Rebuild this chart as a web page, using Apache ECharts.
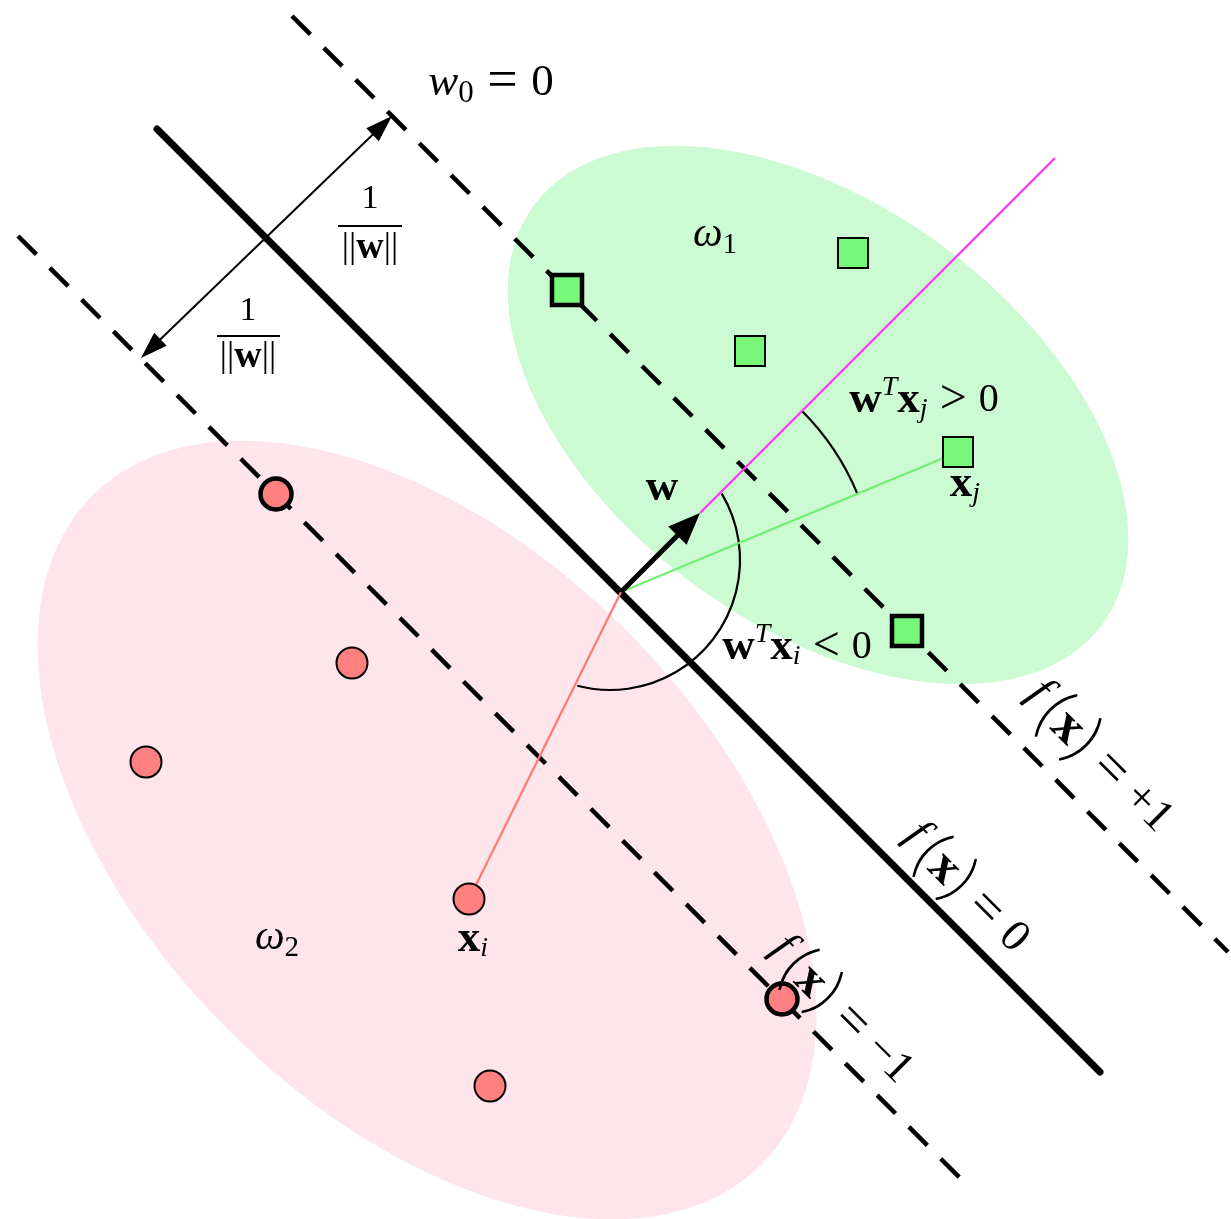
<!DOCTYPE html>
<html>
<head>
<meta charset="utf-8">
<title>Linear SVM: margin and decision boundary</title>
<script src="https://cdn.jsdelivr.net/npm/echarts@6/dist/echarts.min.js"></script>
<style>
  html, body { margin: 0; padding: 0; background: #ffffff; }
  #chart { width: 1231px; height: 1219px; }
</style>
</head>
<body>
<div id="chart"></div>
<script>
// Plane coordinates: x grows to the right, y grows downward.
const PLANE_W = 1231, PLANE_H = 1219;

// Class regions: [centerX, centerY, semiMajor, semiMinor, tiltDeg]
const regionOmega1 = [818, 415, 353, 210, 36.4];
const regionOmega2 = [427, 830, 473, 282, 45];

// Samples of each class (support vectors kept apart)
const omega1Points = [[853, 253], [750, 351], [958, 452]];
const omega1Support = [[567, 290], [907, 631]];
const omega2Points = [[352, 663], [146, 762], [469, 899], [490, 1086]];
const omega2Support = [[276, 494], [782, 999]];

// Decision boundary f(x)=0 and the two margins f(x)=+1 / f(x)=-1
const boundary = [[157, 129], [1100, 1072]];
const marginPlus = [[292, 16], [1228, 952]];
const marginMinus = [[18, 236], [962, 1180]];

// Normal vector w, its extension, and the two projected samples
const wArrow = [621, 592, 700, 513];
const wRay = [[700, 513], [1055, 158]];
const toXj = [[621, 592], [958, 452]];
const toXi = [[621, 592], [469, 899]];

// Double arrow spanning the margin
const marginArrow = [141, 358, 392, 116];

// Angle arcs: [cx, cy, r, startDeg, endDeg]
const arcPositive = [621, 592, 256, -45, -22.6];
const arcNegative = [610, 560, 130, -30.7, 104.6];

// Fraction bars of 1/||w||: [x1, y, x2]
const fractionBars = [[338, 226, 402], [217, 336, 280]];

// ---------------------------------------------------------------
const SERIF = '"Liberation Serif", "DejaVu Serif", serif';
const REGION_COLORS = ['#ccfad2', '#fde5eb'];

function richFor(size) {
  const s = Math.round(size * 0.7);
  const b = Math.round(size * 1.12);
  return {
    it: { fontSize: size, fontStyle: 'italic', fontFamily: SERIF },
    itf: { fontSize: size, fontStyle: 'italic', fontFamily: SERIF, padding: [0, 0, Math.round(size * 0.22), 0] },
    rm: { fontSize: size, fontFamily: SERIF },
    bf: { fontSize: b, fontWeight: 'bold', fontFamily: SERIF },
    rel: { fontSize: Math.round(size * 1.2), fontFamily: SERIF },
    bars: { fontSize: Math.round(size * 1.05), fontFamily: SERIF },
    sub: { fontSize: s, fontStyle: 'italic', fontFamily: SERIF, padding: [Math.round(size * 0.5), 0, 0, 0] },
    subrm: { fontSize: s, fontFamily: SERIF, padding: [Math.round(size * 0.48), 0, 0, 0] },
    sup: { fontSize: s, fontStyle: 'italic', fontFamily: SERIF, padding: [0, 0, Math.round(size * 0.6), 0] },
    big: { fontSize: Math.round(size * 1.45), fontFamily: 'Lato, "DejaVu Sans", sans-serif', fontWeight: 300,
           padding: [0, 0, Math.round(size * 0.05), 0] }
  };
}

const labels = [
  { text: '{it|w}{subrm|0}{rel| = }{rm|0}', at: [491, 83], size: 45 },
  { text: '{it|ω}{subrm|1}', at: [715, 235], size: 42 },
  { text: '{it|ω}{subrm|2}', at: [277, 938], size: 42 },
  { text: '{bf|w}', at: [662, 488], size: 40 },
  { text: '{bf|x}{sub|j}', at: [965, 484], size: 40 },
  { text: '{bf|x}{sub|i}', at: [473, 939], size: 40 },
  { text: '{bf|w}{sup|T}{bf|x}{sub|j}{rel| > }{rm|0}', at: [924, 400], size: 40 },
  { text: '{bf|w}{sup|T}{bf|x}{sub|i}{rel| < }{rm|0}', at: [797, 647], size: 40 },
  { text: '{rm|1}', at: [370, 199], size: 34 },
  { text: '{bars|||}{bf|w}{bars|||}', at: [370, 248], size: 34 },
  { text: '{rm|1}', at: [248, 311], size: 34 },
  { text: '{bars|||}{bf|w}{bars|||}', at: [248, 357], size: 34 },
  { text: '{itf|f\u2009}{big|(}{bf|x}{big|)}{rel| = }{rm|+1}', at: [1098, 758], size: 46, tilt: -45 },
  { text: '{itf|f\u2009}{big|(}{bf|x}{big|)}{rel| = }{rm|0}', at: [965, 889], size: 45, tilt: -45 },
  { text: '{itf|f\u2009}{big|(}{bf|x}{big|)}{rel| = }{rm|−1}', at: [840, 1011], size: 45, tilt: -45 }
];

const arrowStyles = [
  { width: 2, headLen: 27, headWidth: 18, both: true },
  { width: 5, headLen: 32, headWidth: 26, both: false }
];

function ellipseItem(params, api) {
  const cx = api.value(0), cy = api.value(1);
  const a = api.value(2), b = api.value(3);
  const t = api.value(4) * Math.PI / 180;
  const pts = [];
  for (let k = 0; k < 240; k++) {
    const u = (k / 240) * Math.PI * 2;
    const ex = a * Math.cos(u), ey = b * Math.sin(u);
    pts.push(api.coord([cx + ex * Math.cos(t) - ey * Math.sin(t),
                        cy + ex * Math.sin(t) + ey * Math.cos(t)]));
  }
  return { type: 'polygon', shape: { points: pts }, style: { fill: REGION_COLORS[params.dataIndex] } };
}

function arcItem(params, api) {
  const c = api.coord([api.value(0), api.value(1)]);
  const r = api.size([api.value(2), 0])[0];
  return {
    type: 'arc',
    shape: { cx: c[0], cy: c[1], r: r,
             startAngle: api.value(3) * Math.PI / 180,
             endAngle: api.value(4) * Math.PI / 180, clockwise: true },
    style: { stroke: '#000', lineWidth: 2.2, fill: 'none' }
  };
}

function head(tip, dir, len, wid) {
  const bx = tip[0] - dir[0] * len, by = tip[1] - dir[1] * len;
  const nx = -dir[1] * wid / 2, ny = dir[0] * wid / 2;
  return { type: 'polygon', shape: { points: [tip, [bx + nx, by + ny], [bx - nx, by - ny]] }, style: { fill: '#000' } };
}

function arrowItem(params, api) {
  const st = arrowStyles[params.dataIndex];
  const p1 = api.coord([api.value(0), api.value(1)]);
  const p2 = api.coord([api.value(2), api.value(3)]);
  const dx = p2[0] - p1[0], dy = p2[1] - p1[1];
  const L = Math.hypot(dx, dy);
  const d = [dx / L, dy / L];
  const s = st.both ? [p1[0] + d[0] * st.headLen * 0.6, p1[1] + d[1] * st.headLen * 0.6] : p1;
  const e = [p2[0] - d[0] * st.headLen * 0.6, p2[1] - d[1] * st.headLen * 0.6];
  const children = [
    { type: 'line', shape: { x1: s[0], y1: s[1], x2: e[0], y2: e[1] }, style: { stroke: '#000', lineWidth: st.width } },
    head(p2, d, st.headLen, st.headWidth)
  ];
  if (st.both) children.push(head(p1, [-d[0], -d[1]], st.headLen, st.headWidth));
  return { type: 'group', children: children };
}

function barItem(params, api) {
  const a = api.coord([api.value(0), api.value(1)]);
  const b = api.coord([api.value(2), api.value(1)]);
  return { type: 'line', shape: { x1: a[0], y1: a[1], x2: b[0], y2: b[1] }, style: { stroke: '#000', lineWidth: 1.8 } };
}

function labelItem(params, api) {
  const lb = labels[params.dataIndex];
  const p = api.coord([api.value(0), api.value(1)]);
  return {
    type: 'text',
    x: p[0], y: p[1],
    rotation: (lb.tilt || 0) * Math.PI / 180,
    style: {
      text: lb.text,
      rich: richFor(lb.size),
      fill: '#000',
      fontSize: lb.size,
      fontFamily: SERIF,
      align: 'center',
      verticalAlign: 'middle'
    }
  };
}

function segment(data, style, z) {
  return {
    type: 'line', data: data, showSymbol: false, symbol: 'none', silent: true, clip: false, z: z,
    lineStyle: style
  };
}

const chart = echarts.init(document.getElementById('chart'));
chart.setOption({
  animation: false,
  backgroundColor: '#ffffff',
  grid: { left: 0, right: 0, top: 0, bottom: 0, containLabel: false },
  xAxis: { type: 'value', min: 0, max: PLANE_W, show: false, splitLine: { show: false } },
  yAxis: { type: 'value', min: 0, max: PLANE_H, inverse: true, show: false, splitLine: { show: false } },
  series: [
    { type: 'custom', renderItem: ellipseItem, data: [regionOmega1, regionOmega2], silent: true, z: 1 },
    segment(marginPlus, { color: '#000', width: 4.5, type: [26, 19], cap: 'butt' }, 2),
    segment(marginMinus, { color: '#000', width: 4.5, type: [26, 19], cap: 'butt' }, 2),
    segment(boundary, { color: '#000', width: 7, type: 'solid', cap: 'round' }, 2),
    segment(wRay, { color: '#f440f4', width: 2.4, type: 'solid' }, 3),
    segment(toXj, { color: '#70f070', width: 2.2, type: 'solid' }, 3),
    segment(toXi, { color: '#ff7a72', width: 2.2, type: 'solid' }, 3),
    { type: 'custom', renderItem: arcItem, data: [arcPositive, arcNegative], silent: true, z: 3 },
    { type: 'custom', renderItem: arrowItem, data: [marginArrow, wArrow], silent: true, z: 4 },
    { type: 'custom', renderItem: barItem, data: fractionBars, silent: true, z: 6 },
    { type: 'scatter', data: omega1Points, symbol: 'rect', symbolSize: 30, silent: true, z: 5,
      itemStyle: { color: '#78f878', borderColor: '#000', borderWidth: 2, opacity: 1 } },
    { type: 'scatter', data: omega1Support, symbol: 'rect', symbolSize: 30, silent: true, z: 5,
      itemStyle: { color: '#78f878', borderColor: '#000', borderWidth: 4.5, opacity: 1 } },
    { type: 'scatter', data: omega2Points, symbol: 'circle', symbolSize: 31, silent: true, z: 5,
      itemStyle: { color: '#ff8080', borderColor: '#000', borderWidth: 2, opacity: 1 } },
    { type: 'scatter', data: omega2Support, symbol: 'circle', symbolSize: 31, silent: true, z: 5,
      itemStyle: { color: '#ff8080', borderColor: '#000', borderWidth: 4.5, opacity: 1 } },
    { type: 'custom', renderItem: labelItem, data: labels.map(function (l) { return l.at; }), silent: true, z: 6 }
  ]
});
</script>
</body>
</html>
